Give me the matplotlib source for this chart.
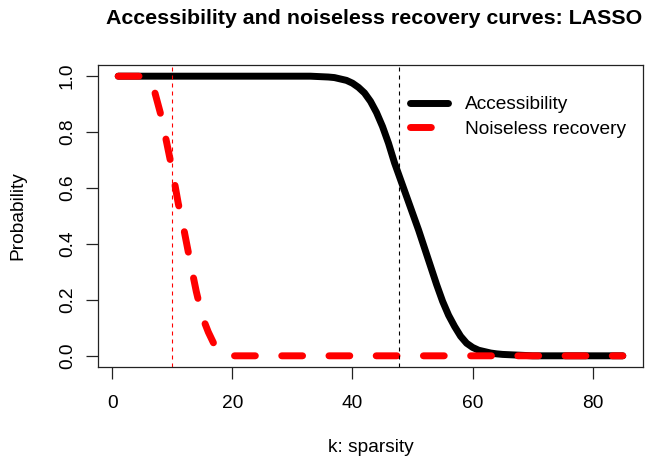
import matplotlib
matplotlib.use("Agg")
import matplotlib.pyplot as plt
import numpy as np

plt.rcParams["font.family"] = ["Liberation Sans", "DejaVu Sans"]

# sparsity levels and the two probability curves
k = list(range(1, 86))
accessibility = ([1.0] * 33 +
                 [0.999, 0.998, 0.997, 0.995, 0.99, 0.985, 0.975, 0.96, 0.94, 0.91,
                  0.87, 0.82, 0.76, 0.69, 0.63, 0.57, 0.51, 0.45, 0.385, 0.32,
                  0.255, 0.195, 0.145, 0.105, 0.07, 0.045, 0.03, 0.02, 0.015, 0.01,
                  0.007, 0.005, 0.004, 0.003, 0.002, 0.001] +
                 [0.0] * 16)
noiseless = ([1.0] * 5 +
             [0.995, 0.95, 0.87, 0.77, 0.665, 0.545, 0.445, 0.335, 0.23, 0.14,
              0.085, 0.04, 0.015, 0.003] +
             [0.0] * 66)
k_recovery = 10      # red reference line
k_access = 47.8      # black reference line

xticks = [0, 20, 40, 60, 80]
yticks = [0.0, 0.2, 0.4, 0.6, 0.8, 1.0]

FS = 13.8
W, H = 663, 457
fig = plt.figure(figsize=(W / 100, H / 100), dpi=100)
ax = fig.add_axes([98 / W, (H - 367) / H, (643 - 98) / W, (367 - 65) / H])

ax.plot(k, accessibility, color="black", lw=5, solid_capstyle="round",
        label="Accessibility")
ax.plot(k, noiseless, color="red", lw=5, dashes=(3, 3.8), dash_capstyle="round",
        label="Noiseless recovery")
ax.axvline(k_recovery, color="red", lw=0.8, dashes=(3.6, 3.6))
ax.axvline(k_access, color="black", lw=0.8, dashes=(3.6, 3.6))

# R-style 4% padding
xr = max(k) - min(k)
ax.set_xlim(min(k) - 0.04 * xr, max(k) + 0.04 * xr)
ax.set_ylim(-0.04, 1.04)
ax.set_xticks(xticks)
ax.set_yticks(yticks)
ax.set_yticklabels([f"{v:.1f}" for v in yticks], rotation=90, va="center")
ax.tick_params(length=8.5, width=0.9, labelsize=FS, color="#222222")
ax.tick_params(axis="x", pad=11.5)
ax.tick_params(axis="y", pad=7.5)
for s in ax.spines.values():
    s.set_linewidth(0.9)
    s.set_color("#222222")

ax.set_xlabel("k: sparsity", fontsize=FS, va="center")
ax.xaxis.set_label_coords(0.5, (367 - 448) / 302)
ax.set_ylabel("Probability", fontsize=FS, va="center")
ax.yaxis.set_label_coords((18 - 98) / 545, 0.5)

fig.text((108 + 640) / 2 / W, 1 - 19 / H,
         "Accessibility and noiseless recovery curves: LASSO",
         fontsize=15.4, fontweight="bold", ha="center", va="center")

ax.legend(loc="upper left", bbox_to_anchor=(410 / W, 1 - 96 / H),
          bbox_transform=fig.transFigure, frameon=False, fontsize=FS,
          borderpad=0, handlelength=2.0, handletextpad=0.85, labelspacing=0.38,
          borderaxespad=0)

fig.savefig("out.png", dpi=100)
